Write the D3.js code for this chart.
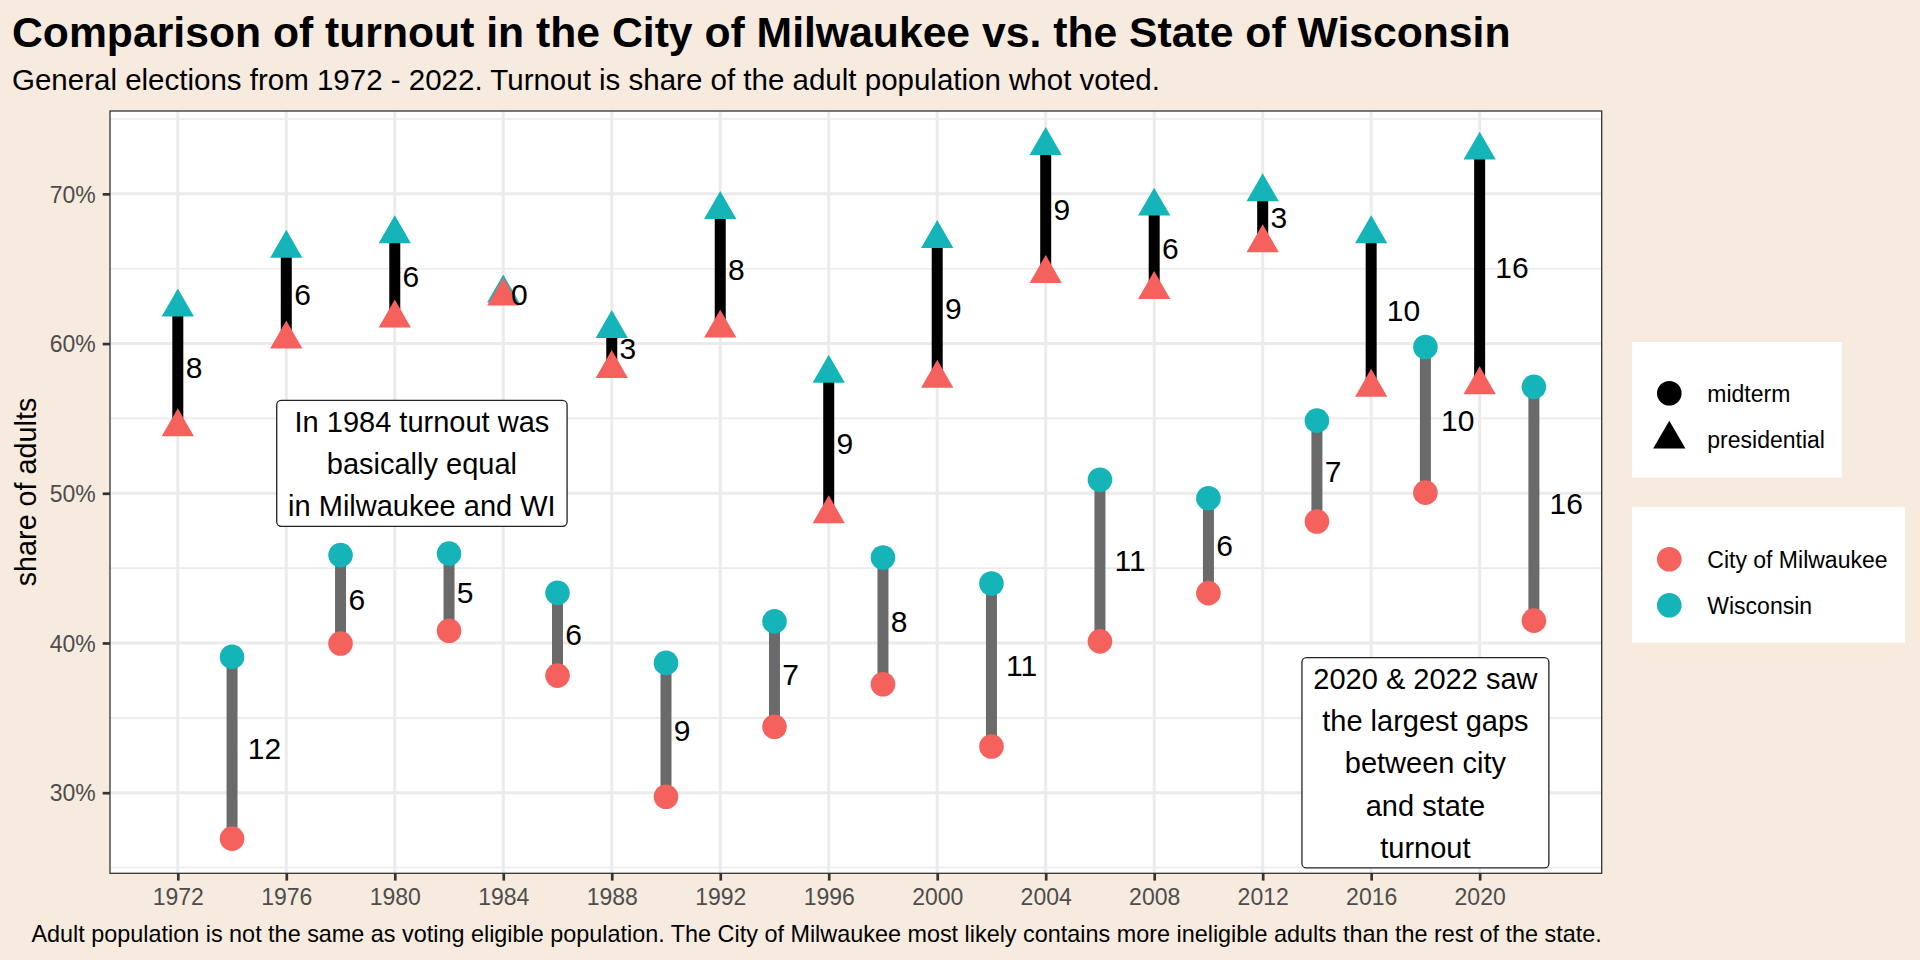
<!DOCTYPE html>
<html><head><meta charset="utf-8">
<script src="https://cdn.jsdelivr.net/npm/d3@7"></script>
<style>
body{margin:0;background:#F7EBDF}
svg{display:block}
text{font-family:"Liberation Sans",Arial,Helvetica,sans-serif}
</style>
</head><body>
<svg id="chart" width="1920" height="960"></svg>
<script>
// ---------------- data ----------------
const years = [1972,1974,1976,1978,1980,1982,1984,1986,1988,1990,1992,1994,1996,1998,2000,2002,2004,2006,2008,2010,2012,2014,2016,2018,2020,2022];
const electionType = ["presidential","midterm","presidential","midterm","presidential","midterm","presidential","midterm","presidential","midterm","presidential","midterm","presidential","midterm","presidential","midterm","presidential","midterm","presidential","midterm","presidential","midterm","presidential","midterm","presidential","midterm"];
const milwaukee = [54.43,26.93,60.29,39.97,61.69,40.82,63.17,37.82,58.33,29.73,61.02,34.40,48.62,37.24,57.67,33.09,64.67,40.11,63.60,43.33,66.73,48.11,57.07,50.04,57.24,41.49];
const wisconsin = [62.43,39.07,66.35,45.87,67.33,45.97,63.37,43.35,61.00,38.67,68.95,41.44,58.00,45.71,67.00,43.97,73.22,50.90,69.17,49.67,70.13,54.85,67.33,59.77,72.91,57.11];
const xTicks = [1972,1976,1980,1984,1988,1992,1996,2000,2004,2008,2012,2016,2020];
const yTicks = [30,40,50,60,70];
const yMinorTicks = [25,35,45,55,65,75];
const shapeLegend = ["midterm","presidential"];
const colorLegend = ["City of Milwaukee","Wisconsin"];
const annotationYears = [1981, 2018];
const annotationValues = [52, 32];
const annotationLines = [
  ["In 1984 turnout was","basically equal","in Milwaukee and WI"],
  ["2020 & 2022 saw","the largest gaps","between city","and state","turnout"]
];
const titleText = "Comparison of turnout in the City of Milwaukee vs. the State of Wisconsin";
const subtitleText = "General elections from 1972 - 2022. Turnout is share of the adult population whot voted.";
const captionText = "Adult population is not the same as voting eligible population. The City of Milwaukee most likely contains more ineligible adults than the rest of the state.";
const yTitle = "share of adults";

// ---------------- style ----------------
const COL_MKE = "#F5625D", COL_WI = "#14B4B8";
const segColor = {presidential:"#000000", midterm:"#6a6a6a"};
const panel = {l:110, r:1601.7, t:111, b:873.3};

const svg = d3.select("#chart");
svg.append("rect").attr("width",1920).attr("height",960).attr("fill","#F7EBDF");

const rows = years.map((y,i)=>({year:y, type:electionType[i], mke:milwaukee[i], wi:wisconsin[i]}));

const xMin = d3.min(years), xMax = d3.max(years);
const xPad = (xMax-xMin)*0.05;
const x = d3.scaleLinear().domain([xMin-xPad, xMax+xPad]).range([panel.l, panel.r]);
const allV = milwaukee.concat(wisconsin);
const vMin = d3.min(allV), vMax = d3.max(allV), vPad = (vMax-vMin)*0.05;
const y = d3.scaleLinear().domain([vMin-vPad, vMax+vPad]).range([panel.b, panel.t]);

// panel background
svg.append("rect").attr("x",panel.l).attr("y",panel.t)
  .attr("width",panel.r-panel.l).attr("height",panel.b-panel.t).attr("fill","#ffffff");

const grid = svg.append("g");
grid.selectAll("line.minor").data(yMinorTicks).join("line")
  .attr("x1",panel.l).attr("x2",panel.r).attr("y1",d=>y(d)).attr("y2",d=>y(d))
  .attr("stroke","#EBEBEB").attr("stroke-width",1.6);
grid.selectAll("line.majy").data(yTicks).join("line")
  .attr("x1",panel.l).attr("x2",panel.r).attr("y1",d=>y(d)).attr("y2",d=>y(d))
  .attr("stroke","#EBEBEB").attr("stroke-width",3);
grid.selectAll("line.majx").data(xTicks).join("line")
  .attr("y1",panel.t).attr("y2",panel.b).attr("x1",d=>x(d)).attr("x2",d=>x(d))
  .attr("stroke","#EBEBEB").attr("stroke-width",3);

// segments
svg.append("g").selectAll("line").data(rows).join("line")
  .attr("x1",d=>x(d.year)).attr("x2",d=>x(d.year))
  .attr("y1",d=>y(d.mke)).attr("y2",d=>y(d.wi))
  .attr("stroke",d=>segColor[d.type]).attr("stroke-width",11);

// symbols
const R_CIRCLE = 12.3, R_TRI = 18.65;
function triPath(r){const h=r*Math.sqrt(3)/2;return `M0,${-r}L${h},${r/2}L${-h},${r/2}Z`;}
function drawPoint(g, type, cx, cy, color){
  if(type==="midterm"){
    g.append("circle").attr("cx",cx).attr("cy",cy).attr("r",R_CIRCLE).attr("fill",color);
  } else {
    g.append("path").attr("d",triPath(R_TRI)).attr("transform",`translate(${cx},${cy})`).attr("fill",color);
  }
}
const pts = svg.append("g");
rows.forEach(d=>drawPoint(pts, d.type, x(d.year), y(d.wi), COL_WI));
rows.forEach(d=>drawPoint(pts, d.type, x(d.year), y(d.mke), COL_MKE));

// gap labels
const LABEL_FS = 30;
const lab = svg.append("g");
rows.forEach(d=>{
  const t = lab.append("text").attr("font-size",LABEL_FS).attr("fill","#000")
    .text(Math.round(d.wi-d.mke));
  const w = t.node().getComputedTextLength();
  t.attr("x", x(d.year)+0.47*w).attr("y", y((d.wi+d.mke)/2)+0.358*LABEL_FS);
});

// annotation labels
const ANN_FS = 29, ANN_LH = 42.2;
annotationYears.forEach((yr,k)=>{
  const g = svg.append("g");
  const lines = annotationLines[k];
  const n = lines.length;
  const cx = x(yr), cy = y(annotationValues[k]);
  const rect = g.append("rect");
  let maxW = 0;
  lines.forEach((s,i)=>{
    const t = g.append("text").attr("x",cx).attr("text-anchor","middle")
      .attr("y", cy + (i-(n-1)/2)*ANN_LH + 10.7).attr("font-size",ANN_FS).attr("fill","#000").text(s);
    maxW = Math.max(maxW, t.node().getComputedTextLength());
  });
  const halfH = (n-1)/2*ANN_LH + 20.8;
  const w = maxW + 2*11.4;
  rect.attr("x",cx-w/2).attr("y",cy-halfH).attr("width",w).attr("height",2*halfH)
    .attr("rx",4.5).attr("fill","#fff").attr("stroke","#222").attr("stroke-width",1.3);
});

// panel border
svg.append("rect").attr("x",panel.l).attr("y",panel.t)
  .attr("width",panel.r-panel.l).attr("height",panel.b-panel.t)
  .attr("fill","none").attr("stroke","#333").attr("stroke-width",1.3);

// axes
const yAxis = d3.axisLeft(y).tickValues(yTicks).tickSize(7.3).tickPadding(7).tickFormat(d=>d+"%");
const gy = svg.append("g").attr("transform",`translate(${panel.l},0)`).call(yAxis);
gy.select(".domain").remove();
gy.selectAll(".tick line").attr("stroke","#333").attr("stroke-width",2.7);
gy.selectAll(".tick text").attr("font-size",23).attr("fill","#4D4D4D")
  .attr("font-family",'"Liberation Sans",Arial,sans-serif').attr("dy",null).attr("y",8.2);

const xAxis = d3.axisBottom(x).tickValues(xTicks).tickSize(7.3).tickPadding(7).tickFormat(d3.format("d"));
const gx = svg.append("g").attr("transform",`translate(0,${panel.b})`).call(xAxis);
gx.select(".domain").remove();
gx.selectAll(".tick line").attr("stroke","#333").attr("stroke-width",2.7);
gx.selectAll(".tick text").attr("font-size",23).attr("fill","#4D4D4D")
  .attr("font-family",'"Liberation Sans",Arial,sans-serif').attr("dy",null).attr("y",31.7);

// axis title
svg.append("text").attr("transform","translate(36,492) rotate(-90)")
  .attr("text-anchor","middle").attr("font-size",28.75).attr("fill","#000").text(yTitle);

// titles
svg.append("text").attr("x",12).attr("y",47).attr("font-size",42.7).attr("font-weight","bold")
  .attr("fill","#000").text(titleText);
svg.append("text").attr("x",12).attr("y",90).attr("font-size",29.5).attr("fill","#000").text(subtitleText);
svg.append("text").attr("x",panel.r).attr("y",941.5).attr("text-anchor","end")
  .attr("font-size",23.4).attr("fill","#000").text(captionText);

// legends
const LEG_X = 1632, KEY_X = 1669.3, TXT_X = 1707.3;
const lg1 = svg.append("g");
lg1.append("rect").attr("x",LEG_X).attr("y",342).attr("width",210).attr("height",135.7).attr("fill","#fff");
shapeLegend.forEach((s,i)=>{
  const cy = 393.3 + i*46;
  drawPoint(lg1, s, KEY_X, cy, "#000");
  lg1.append("text").attr("x",TXT_X).attr("y",cy+8.2).attr("font-size",23).attr("fill","#000").text(s);
});
const lg2 = svg.append("g");
lg2.append("rect").attr("x",LEG_X).attr("y",507).attr("width",273).attr("height",135.7).attr("fill","#fff");
[COL_MKE, COL_WI].forEach((c,i)=>{
  const cy = 559.3 + i*46;
  lg2.append("circle").attr("cx",KEY_X).attr("cy",cy).attr("r",R_CIRCLE).attr("fill",c);
  lg2.append("text").attr("x",TXT_X).attr("y",cy+8.2).attr("font-size",23).attr("fill","#000").text(colorLegend[i]);
});
</script>
</body></html>
